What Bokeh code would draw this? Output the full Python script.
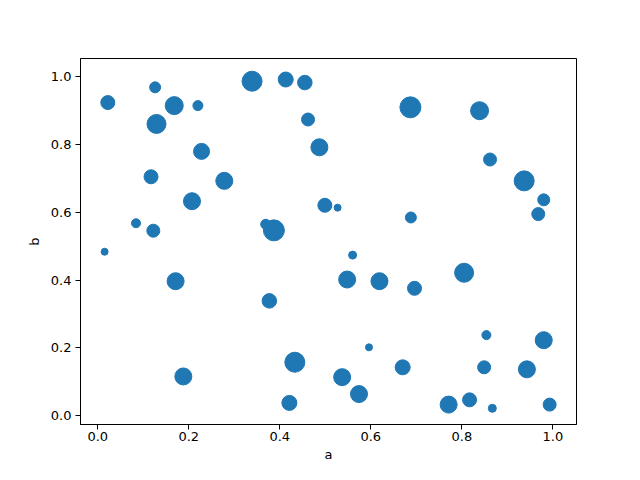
from bokeh.plotting import figure
from bokeh.models import Range1d, FixedTicker, PrintfTickFormatter, ColumnDataSource
from bokeh.embed import file_html
from bokeh.resources import INLINE

a = [0.022, 0.126, 0.129, 0.168, 0.220, 0.339, 0.413, 0.455, 0.462, 0.487,
     0.228, 0.117, 0.278, 0.207, 0.499, 0.084, 0.122, 0.369, 0.387, 0.687,
     0.839, 0.862, 0.937, 0.980, 0.968, 0.527, 0.688, 0.015, 0.171, 0.377,
     0.433, 0.188, 0.421, 0.560, 0.548, 0.619, 0.696, 0.805, 0.854, 0.980,
     0.596, 0.537, 0.670, 0.849, 0.943, 0.574, 0.771, 0.817, 0.867, 0.993]
b = [0.924, 0.969, 0.861, 0.915, 0.915, 0.987, 0.992, 0.983, 0.874, 0.792,
     0.780, 0.705, 0.693, 0.633, 0.621, 0.568, 0.546, 0.565, 0.547, 0.910,
     0.900, 0.756, 0.693, 0.637, 0.595, 0.614, 0.585, 0.484, 0.397, 0.339,
     0.158, 0.116, 0.038, 0.474, 0.402, 0.397, 0.376, 0.422, 0.238, 0.223,
     0.202, 0.114, 0.143, 0.143, 0.137, 0.064, 0.033, 0.047, 0.022, 0.033]
marker_size = [14, 11, 19, 18, 10, 20, 15, 14.5, 13, 17,
               16, 14, 17, 17, 14, 9, 13, 10, 21, 21,
               18, 13, 20, 12, 13, 7, 11, 7, 17, 14.5,
               20, 17, 15, 8, 17, 17, 14, 19, 9, 17,
               7, 17, 15, 13, 17, 17, 17, 14, 8, 13]
ticks = [0.0, 0.2, 0.4, 0.6, 0.8, 1.0]

src = ColumnDataSource(data=dict(a=a, b=b, s=marker_size))

p = figure(width=624, height=464, output_backend="svg", toolbar_location=None,
           x_range=Range1d(-0.038, 1.052), y_range=Range1d(-0.0257, 1.054),
           min_border_left=80, min_border_right=48, min_border_top=58, min_border_bottom=37)
p.scatter("a", "b", size="s", source=src, fill_color="#1f77b4", line_color="#1f77b4")

p.xgrid.visible = False
p.ygrid.visible = False
p.outline_line_color = "black"
p.outline_line_width = 1
p.background_fill_color = "white"
p.border_fill_color = "white"
p.xaxis.axis_label = "a"
p.yaxis.axis_label = "b"
for ax in (p.xaxis[0], p.yaxis[0]):
    ax.ticker = FixedTicker(ticks=ticks)
    ax.formatter = PrintfTickFormatter(format="%.1f")
    ax.major_tick_out = 5
    ax.major_tick_in = 0
    ax.minor_tick_line_color = None
    ax.axis_line_color = "black"
    ax.major_tick_line_color = "black"
    ax.major_label_text_font = "DejaVu Sans"
    ax.major_label_text_font_size = "13px"
    ax.major_label_text_color = "black"
    ax.axis_label_text_font = "DejaVu Sans"
    ax.axis_label_text_font_size = "13px"
    ax.axis_label_text_font_style = "normal"
    ax.axis_label_text_color = "black"
    ax.major_label_standoff = 4
    ax.axis_label_standoff = 6
p.xaxis[0].major_label_standoff = 2
p.xaxis[0].axis_label_standoff = 3

open("out.html", "w").write(file_html(p, INLINE))
